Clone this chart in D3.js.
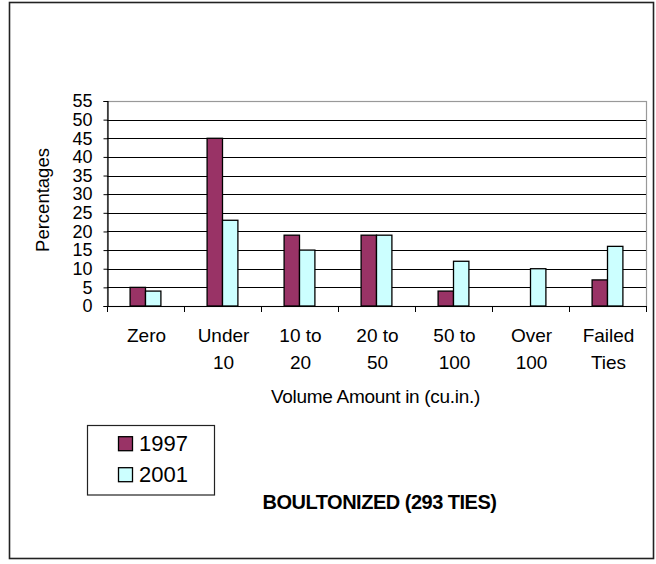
<!DOCTYPE html>
<html>
<head>
<meta charset="utf-8">
<script src="https://cdn.jsdelivr.net/npm/d3@7"></script>
<style>
  html, body { margin: 0; padding: 0; background: #fff; }
  svg { display: block; font-family: "Liberation Sans", Arial, Helvetica, sans-serif; }
</style>
</head>
<body>
<svg id="chart" width="656" height="564"></svg>
<script>
// Volume classes (two-line labels)
const categories = ["Zero", "Under 10", "10 to 20", "20 to 50", "50 to 100", "Over 100", "Failed Ties"];
const categoryLines = [["Zero"], ["Under", "10"], ["10 to", "20"], ["20 to", "50"], ["50 to", "100"], ["Over", "100"], ["Failed", "Ties"]];
const series = ["1997", "2001"];
const values1997 = [5, 45, 19, 19, 4, 0, 7];
const values2001 = [4, 23, 15, 19, 12, 10, 16];
const yTicks = [0, 5, 10, 15, 20, 25, 30, 35, 40, 45, 50, 55];
const colors = ["#993366", "#CCFFFF"];

const seriesValues = [values1997, values2001];
const svg = d3.select("#chart");

// outer frame
svg.append("rect")
  .attr("x", 9.5).attr("y", 2.5).attr("width", 644).attr("height", 556)
  .attr("fill", "#fff").attr("stroke", "#222").attr("stroke-width", 1.6);

const plot = { left: 107, right: 646, top: 101, bottom: 306 };

const y = d3.scaleLinear().domain([0, 55]).range([plot.bottom, plot.top]);
const x0 = d3.scaleBand().domain(categories).range([plot.left, plot.right]).padding(0);
const x1 = d3.scaleBand().domain(series)
  .range([x0.bandwidth() * 0.3, x0.bandwidth() * 0.7]).padding(0);

// plot area border (gray)
svg.append("rect")
  .attr("x", plot.left + 0.5).attr("y", plot.top + 0.5)
  .attr("width", plot.right - plot.left).attr("height", plot.bottom - plot.top)
  .attr("fill", "none").attr("stroke", "#999").attr("stroke-width", 1.2);

// horizontal gridlines
svg.append("g")
  .selectAll("line")
  .data(yTicks.filter(d => d > 0 && d < 55))
  .join("line")
  .attr("x1", plot.left).attr("x2", plot.right)
  .attr("y1", d => Math.round(y(d)) + 0.5).attr("y2", d => Math.round(y(d)) + 0.5)
  .attr("stroke", "#000").attr("stroke-width", 1);

// bars
const groups = svg.append("g")
  .selectAll("g")
  .data(categories)
  .join("g")
  .attr("transform", d => `translate(${x0(d)},0)`);

groups.selectAll("rect")
  .data((d, i) => series.map((s, j) => ({ s, j, v: seriesValues[j][i] })).filter(e => e.v > 0))
  .join("rect")
  .attr("x", d => x1(d.s))
  .attr("y", d => y(d.v))
  .attr("width", x1.bandwidth())
  .attr("height", d => y(0) - y(d.v))
  .attr("fill", d => colors[d.j])
  .attr("stroke", "#000")
  .attr("stroke-width", 1.3);

// y axis
const yAxis = d3.axisLeft(y).tickValues(yTicks).tickSize(4).tickPadding(11);
const gy = svg.append("g")
  .attr("transform", `translate(${plot.left + 0.5},0)`)
  .call(yAxis);
gy.select(".domain").attr("stroke", "#000").attr("stroke-width", 1.2);
gy.selectAll(".tick line").attr("stroke", "#000");
gy.selectAll(".tick text")
  .attr("font-size", 18).attr("fill", "#000")
  .attr("font-family", "'Liberation Sans', Arial, sans-serif");

// x axis line and category boundary ticks
svg.append("line")
  .attr("x1", plot.left).attr("x2", plot.right)
  .attr("y1", plot.bottom + 0.5).attr("y2", plot.bottom + 0.5)
  .attr("stroke", "#000").attr("stroke-width", 1.2);
const bounds = categories.map(c => x0(c)).concat([x0(categories[categories.length - 1]) + x0.bandwidth()]);
svg.append("g").selectAll("line")
  .data(bounds)
  .join("line")
  .attr("x1", d => Math.round(d) + 0.5).attr("x2", d => Math.round(d) + 0.5)
  .attr("y1", plot.bottom).attr("y2", plot.bottom + 6)
  .attr("stroke", "#000").attr("stroke-width", 1);

// category labels
const catLabels = svg.append("g")
  .attr("font-size", 19)
  .attr("text-anchor", "middle")
  .attr("fill", "#000");
categories.forEach((c, i) => {
  const t = catLabels.append("text")
    .attr("x", x0(c) + x0.bandwidth() / 2 + 1)
    .attr("y", 341.5);
  categoryLines[i].forEach((line, k) => {
    t.append("tspan")
      .attr("x", x0(c) + x0.bandwidth() / 2 + 1)
      .attr("dy", k === 0 ? 0 : 27.7)
      .text(line);
  });
});

// axis titles
svg.append("text")
  .attr("x", (plot.left + plot.right) / 2 - 1)
  .attr("y", 403)
  .attr("text-anchor", "middle")
  .attr("font-size", 19)
  .attr("letter-spacing", -0.3)
  .text("Volume Amount in (cu.in.)");

svg.append("text")
  .attr("transform", "translate(49,200) rotate(-90)")
  .attr("text-anchor", "middle")
  .attr("font-size", 18.5)
  .text("Percentages");

// legend
const legend = svg.append("g");
legend.append("rect")
  .attr("x", 87.5).attr("y", 425.5).attr("width", 127).attr("height", 69.5)
  .attr("fill", "#fff").attr("stroke", "#222").attr("stroke-width", 1.2);
const legendRows = [450.7, 481.7];
series.forEach((s, j) => {
  legend.append("rect")
    .attr("x", 118.5).attr("y", legendRows[j] - 14)
    .attr("width", 14).attr("height", 14)
    .attr("fill", colors[j]).attr("stroke", "#000").attr("stroke-width", 1.3);
  legend.append("text")
    .attr("x", 139).attr("y", legendRows[j])
    .attr("font-size", 22)
    .text(s);
});

// chart title
svg.append("text")
  .attr("x", 379.5).attr("y", 509)
  .attr("text-anchor", "middle")
  .attr("font-size", 20)
  .attr("font-weight", "bold")
  .attr("letter-spacing", -0.5)
  .text("BOULTONIZED (293 TIES)");
</script>
</body>
</html>
